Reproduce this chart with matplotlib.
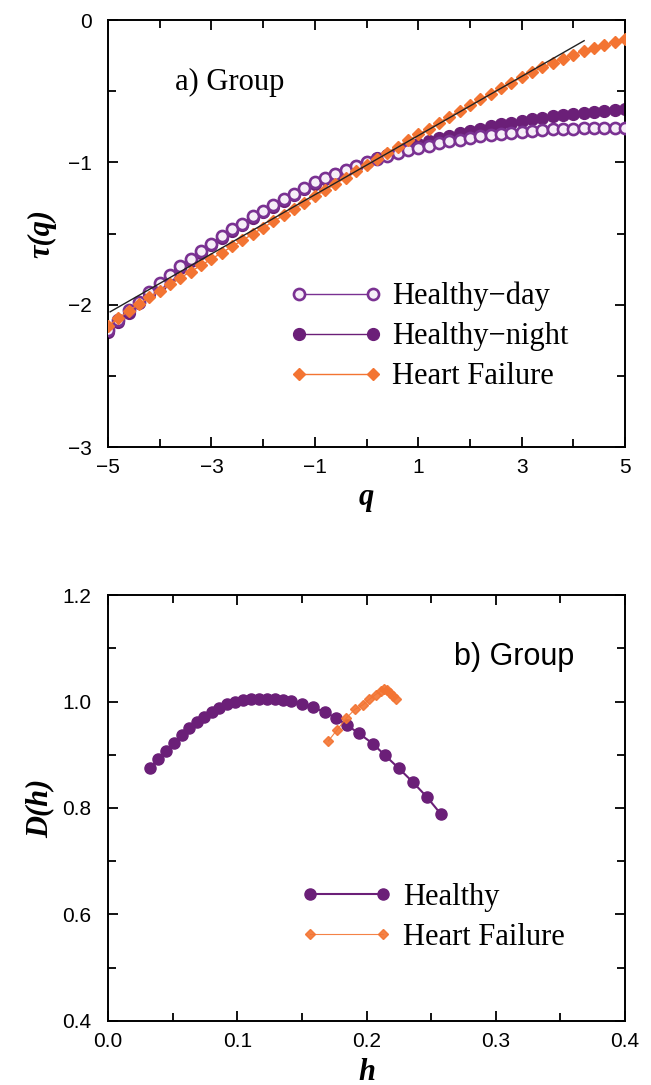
import matplotlib
matplotlib.use("Agg")
import matplotlib.pyplot as plt
from matplotlib.ticker import FixedLocator, MultipleLocator

# panel a) tau(q)
Q = [-5.0, -4.8, -4.6, -4.4, -4.2, -4.0, -3.8, -3.6, -3.4, -3.2,
     -3.0, -2.8, -2.6, -2.4, -2.2, -2.0, -1.8, -1.6, -1.4, -1.2,
     -1.0, -0.8, -0.6, -0.4, -0.2, 0.0, 0.2, 0.4, 0.6, 0.8,
     1.0, 1.2, 1.4, 1.6, 1.8, 2.0, 2.2, 2.4, 2.6, 2.8,
     3.0, 3.2, 3.4, 3.6, 3.8, 4.0, 4.2, 4.4, 4.6, 4.8, 5.0]
TAU_DAY = [-2.18, -2.11, -2.04, -1.98, -1.91, -1.85, -1.79, -1.73, -1.68, -1.62,
           -1.57, -1.52, -1.47, -1.43, -1.38, -1.34, -1.30, -1.26, -1.22, -1.18,
           -1.14, -1.11, -1.08, -1.05, -1.025, -1.00, -0.975, -0.955, -0.935, -0.915,
           -0.898, -0.882, -0.867, -0.853, -0.840, -0.828, -0.817, -0.807, -0.798, -0.790,
           -0.783, -0.777, -0.772, -0.768, -0.765, -0.762, -0.760, -0.759, -0.758, -0.757, -0.757]
TAU_NIGHT = [-2.19, -2.125, -2.055, -1.99, -1.925, -1.865, -1.805, -1.745, -1.69, -1.635,
             -1.583, -1.532, -1.482, -1.44, -1.392, -1.35, -1.31, -1.27, -1.23, -1.19,
             -1.15, -1.117, -1.085, -1.055, -1.027, -1.00, -0.972, -0.945, -0.920, -0.896,
             -0.873, -0.852, -0.832, -0.813, -0.795, -0.778, -0.762, -0.747, -0.733, -0.720,
             -0.708, -0.697, -0.687, -0.677, -0.668, -0.659, -0.651, -0.644, -0.637, -0.631, -0.625]
TAU_HF = [-2.150, -2.095, -2.043, -1.994, -1.947, -1.901, -1.856, -1.811, -1.767, -1.723,
          -1.679, -1.635, -1.591, -1.547, -1.503, -1.459, -1.415, -1.371, -1.327, -1.283,
          -1.239, -1.195, -1.151, -1.107, -1.063, -1.015, -0.975, -0.932, -0.889, -0.846,
          -0.804, -0.762, -0.720, -0.679, -0.638, -0.597, -0.557, -0.517, -0.478, -0.440,
          -0.403, -0.367, -0.333, -0.301, -0.271, -0.243, -0.218, -0.196, -0.177, -0.155, -0.135]
FIT_Q = [-4.96, 4.21]
FIT_TAU = [-2.05, -0.145]
Q_TICKS = [-5, -3, -1, 1, 3, 5]
Q_MINOR = [-4, -2, 0, 2, 4]

# panel b) D(h)
H_HEALTHY = [0.0325, 0.0389, 0.0449, 0.0511, 0.0570, 0.0627, 0.0686, 0.0743, 0.0802, 0.0859,
             0.0918, 0.0983, 0.1044, 0.1106, 0.1168, 0.1230, 0.1292, 0.1354, 0.1416, 0.1499,
             0.1586, 0.1679, 0.1764, 0.1847, 0.1942, 0.2048, 0.2143, 0.2248, 0.2357, 0.2466, 0.2574]
D_HEALTHY = [0.875, 0.892, 0.907, 0.922, 0.937, 0.950, 0.961, 0.971, 0.980, 0.988,
             0.995, 0.999, 1.002, 1.004, 1.005, 1.005, 1.004, 1.003, 1.001, 0.996,
             0.989, 0.980, 0.969, 0.956, 0.940, 0.921, 0.899, 0.875, 0.849, 0.821, 0.789]
H_HF = [0.1705, 0.1773, 0.1844, 0.1909, 0.1973, 0.2022, 0.2070, 0.2109, 0.2135,
        0.2161, 0.2183, 0.2206, 0.2225]
D_HF = [0.926, 0.947, 0.969, 0.985, 0.994, 1.004, 1.013, 1.019, 1.024,
        1.022, 1.016, 1.010, 1.005]

PURPLE = "#6b1f78"
PURPLE_OPEN = "#7a3192"
ORANGE = "#f37432"

SERIF = "Liberation Serif"
SANS = "Liberation Sans"


def style_axes(ax):
    for side in ax.spines.values():
        side.set_linewidth(1.4)
    ax.tick_params(which="both", direction="in", top=True, right=True,
                   labelsize=15, width=1.3, pad=8)
    ax.tick_params(axis="y", which="both", pad=12)
    ax.tick_params(which="major", length=7)
    ax.tick_params(which="minor", length=6)
    for lab in ax.get_xticklabels() + ax.get_yticklabels():
        lab.set_family(SANS)


def plot_tau(ax):
    ax.plot(Q, TAU_NIGHT, "-o", color=PURPLE, lw=1.0, ms=8.5,
            mec=PURPLE, mfc=PURPLE, label="Healthy\u2212night", zorder=2)
    ax.plot(Q, TAU_DAY, "-o", color=PURPLE_OPEN, lw=1.0, ms=8.0, mew=1.9,
            mec=PURPLE_OPEN, mfc="#f6eef8", label="Healthy\u2212day", zorder=3)
    ax.plot(Q, TAU_HF, "-D", color=ORANGE, lw=1.0, ms=6.5,
            mec=ORANGE, mfc=ORANGE, label="Heart Failure", zorder=4)
    ax.plot(FIT_Q, FIT_TAU, color="#222222", lw=1.0, zorder=5)

    ax.set_xlim(-5, 5)
    ax.set_ylim(-3, 0)
    ax.xaxis.set_major_locator(FixedLocator(Q_TICKS))
    ax.xaxis.set_minor_locator(FixedLocator(Q_MINOR))
    ax.yaxis.set_major_locator(MultipleLocator(1))
    ax.yaxis.set_minor_locator(MultipleLocator(0.5))
    style_axes(ax)

    ax.set_xlabel("q", family=SERIF, weight="bold", style="italic", fontsize=22, labelpad=4)
    ax.set_ylabel("\u03c4(q)", family=SERIF, weight="bold", style="italic", fontsize=22, labelpad=8)
    ax.text(0.13, 0.855, "a) Group", transform=ax.transAxes, va="center",
            family=SERIF, fontsize=22)

    h, l = ax.get_legend_handles_labels()
    order = [1, 0, 2]
    ax.legend([h[i] for i in order], [l[i] for i in order], loc="upper left",
              bbox_to_anchor=(0.352, 0.387), frameon=False, numpoints=2,
              handlelength=3.0, handletextpad=0.35, labelspacing=0.36,
              borderpad=0, borderaxespad=0, prop={"family": SERIF, "size": 22})


def plot_dh(ax):
    ax.plot(H_HEALTHY, D_HEALTHY, "-o", color=PURPLE, lw=1.5, ms=8.0,
            mec=PURPLE, mfc=PURPLE, label="Healthy", zorder=2)
    ax.plot(H_HF, D_HF, "-D", color=ORANGE, lw=0.8, ms=5.5, alpha=0.9,
            mec=ORANGE, mfc=ORANGE, label="Heart Failure", zorder=3)

    ax.set_xlim(0, 0.4)
    ax.set_ylim(0.4, 1.2)
    ax.xaxis.set_major_locator(MultipleLocator(0.1))
    ax.xaxis.set_minor_locator(MultipleLocator(0.05))
    ax.yaxis.set_major_locator(MultipleLocator(0.2))
    ax.yaxis.set_minor_locator(MultipleLocator(0.1))
    ax.xaxis.set_major_formatter(lambda v, pos: f"{v:.1f}")
    ax.yaxis.set_major_formatter(lambda v, pos: f"{v:.1f}")
    style_axes(ax)

    ax.set_xlabel("h", family=SERIF, weight="bold", style="italic", fontsize=22, labelpad=5)
    ax.set_ylabel("D(h)", family=SERIF, weight="bold", style="italic", fontsize=22, labelpad=6)
    ax.text(0.67, 0.835, "b) Group", transform=ax.transAxes, family=SANS, fontsize=22)

    ax.legend(loc="upper left", bbox_to_anchor=(0.372, 0.325), frameon=False,
              numpoints=2, handlelength=3.0, handletextpad=0.35, labelspacing=0.36,
              borderpad=0, borderaxespad=0, prop={"family": SERIF, "size": 22})


def main():
    fig = plt.figure(figsize=(6.51, 10.85), dpi=100)
    ax_a = fig.add_axes([0.166, 0.588, 0.794, 0.3935])
    ax_b = fig.add_axes([0.166, 0.059, 0.794, 0.3926])
    plot_tau(ax_a)
    plot_dh(ax_b)
    fig.savefig("out.png", dpi=100, facecolor="white")
    plt.close(fig)


if __name__ == "__main__":
    main()
